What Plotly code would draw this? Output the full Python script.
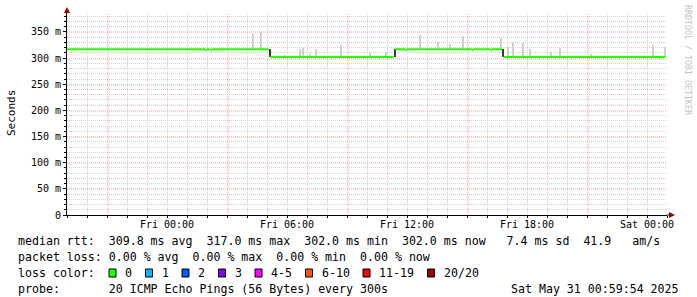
import math
import plotly.graph_objects as go
import pandas as pd

# ---------------- data ----------------
x_start = "2025-05-29 19:00"
x_end = "2025-05-31 01:00"

# median RTT step segments (start, end, value in ms)
seg_start = ["2025-05-29 19:00", "2025-05-30 01:55", "2025-05-30 02:00", "2025-05-30 02:10",
             "2025-05-30 02:15", "2025-05-30 05:10", "2025-05-30 11:25", "2025-05-30 11:55",
             "2025-05-30 12:00", "2025-05-30 15:15", "2025-05-30 15:20", "2025-05-30 16:10",
             "2025-05-30 16:15", "2025-05-30 16:50"]
seg_end = ["2025-05-30 01:55", "2025-05-30 02:00", "2025-05-30 02:10", "2025-05-30 02:15",
           "2025-05-30 05:05", "2025-05-30 11:20", "2025-05-30 11:55", "2025-05-30 12:00",
           "2025-05-30 15:15", "2025-05-30 15:20", "2025-05-30 16:10", "2025-05-30 16:15",
           "2025-05-30 16:45", "2025-05-31 00:55"]
seg_value = [317, 315, 317, 315, 317, 302, 317, 315, 317, 315, 317, 315, 317, 302]

# transition bins (dark smoke between the two levels)
trans_time = ["2025-05-30 05:05", "2025-05-30 11:20", "2025-05-30 16:45"]
trans_low = [302, 302, 302]
trans_high = [317, 317, 317]

# light smoke spikes (time, top in ms)
smoke_time = ["2025-05-30 04:15", "2025-05-30 04:40", "2025-05-30 05:50", "2025-05-30 06:35",
              "2025-05-30 06:45", "2025-05-30 07:05", "2025-05-30 07:25", "2025-05-30 08:40",
              "2025-05-30 10:05", "2025-05-30 10:55", "2025-05-30 12:35", "2025-05-30 13:30",
              "2025-05-30 14:05", "2025-05-30 14:45", "2025-05-30 16:40", "2025-05-30 17:00",
              "2025-05-30 17:15", "2025-05-30 17:45", "2025-05-30 18:05", "2025-05-30 19:10",
              "2025-05-30 19:35", "2025-05-30 21:10", "2025-05-30 23:35", "2025-05-31 00:15",
              "2025-05-31 00:50"]
smoke_top = [347, 350, 306, 318, 319, 308, 317, 325,
             309, 312, 345, 331, 327, 342, 338, 322,
             331, 329, 317, 311, 320, 308, 305, 325, 322]

y_tick_vals = [0, 50, 100, 150, 200, 250, 300, 350]
y_tick_text = ["0", "50 m", "100 m", "150 m", "200 m", "250 m", "300 m", "350 m"]
x_tick_vals = ["2025-05-30 00:00", "2025-05-30 06:00", "2025-05-30 12:00",
               "2025-05-30 18:00", "2025-05-31 00:00"]
x_tick_text = ["Fri 00:00", "Fri 06:00", "Fri 12:00", "Fri 18:00", "Sat 00:00"]
major_vgrid_start = "2025-05-29 21:00"

legend_lines = [
    "median rtt:  309.8 ms avg  317.0 ms max  302.0 ms min  302.0 ms now   7.4 ms sd  41.9   am/s",
    "packet loss: 0.00 % avg  0.00 % max  0.00 % min  0.00 % now",
    "loss color:",
    "probe:       20 ICMP Echo Pings (56 Bytes) every 300s",
]
loss_labels = ["0", "1", "2", "3", "4-5", "6-10", "11-19", "20/20"]
loss_colors = ["#26ff00", "#00b8ff", "#0059ff", "#7e00ff", "#ff00ff", "#ff5500", "#ff0000", "#a10000"]
date_text = "Sat May 31 00:59:54 2025"

# ---------------- geometry helpers ----------------
W, H = 697, 297
L, R, T, B = 67, 667, 13, 215
Y_MAX = 386.3
KY = (B - T) / Y_MAX            # px per ms
T0 = pd.Timestamp(x_start)
T1 = pd.Timestamp(x_end)
KX = (R - L) / (T1 - T0).total_seconds()   # px per second


def px_x(p):
    return (p - L) / (R - L)


def px_y(p):
    return (B - p) / (B - T)


def snap_y(v, off):
    p = math.floor(B - v * KY) + off
    return (B - p) / KY


def snap_x(t, off):
    p = L + (pd.Timestamp(t) - T0).total_seconds() * KX
    p = math.floor(p) + off
    return (T0 + pd.Timedelta(seconds=(p - L) / KX)).strftime("%Y-%m-%d %H:%M:%S.%f")


MONO = "DejaVu Sans Mono"
GRID_MINOR = "#d0d0d0"
GRID_MAJOR = "#eb9a9a"
DOT = "1px,1px"

# grid positions (minor positions skip the major ones)
hours = pd.date_range(x_start, x_end, freq="1h")[1:-1]
major_v = pd.date_range(major_vgrid_start, x_end, freq="6h")
major_set = set(major_v)
minor_v = [h for h in hours if h not in major_set]
minor_h = [v for v in range(10, 390, 10) if v % 50 != 0]

# ---------------- traces ----------------
ss = pd.to_datetime(seg_start)
se = pd.to_datetime(seg_end)


def median_at(t):
    t = pd.Timestamp(t)
    for a, b, v in zip(ss, se, seg_value):
        if a <= t < b:
            return v
    return None


smoke_base = [median_at(t) for t in smoke_time]
smoke_h = [top - base for top, base in zip(smoke_top, smoke_base)]
bin_ms = 6 * 60 * 1000

fig = go.Figure()
fig.add_trace(go.Bar(
    x=pd.to_datetime(smoke_time) + pd.Timedelta(minutes=2.5), y=smoke_h, base=smoke_base,
    width=bin_ms, marker=dict(color="#d0d0d0", line=dict(width=0)),
    hoverinfo="skip"))
fig.add_trace(go.Bar(
    x=pd.to_datetime(trans_time) + pd.Timedelta(minutes=2.5),
    y=[h - l for h, l in zip(trans_high, trans_low)], base=trans_low,
    width=bin_ms, marker=dict(color="#3a3a3a", line=dict(width=0)),
    hoverinfo="skip"))

lx, ly = [], []
for a, b, v in zip(seg_start, seg_end, seg_value):
    lx += [a, b, None]
    ly += [v, v, None]
fig.add_trace(go.Scatter(x=lx, y=ly, mode="lines",
                         line=dict(color="#26ff00", width=2), connectgaps=False,
                         hoverinfo="skip"))

# ---------------- layout ----------------
shapes = []


def vline(t, color, off):
    xt = snap_x(t, off)
    return dict(type="line", xref="x", yref="paper", x0=xt, x1=xt, y0=0, y1=1,
                line=dict(color=color, width=1, dash=DOT), layer="below")


def hline(v, color, off):
    yv = snap_y(v, off)
    return dict(type="line", xref="paper", yref="y", x0=0, x1=1, y0=yv, y1=yv,
                line=dict(color=color, width=1, dash=DOT), layer="below")


for t in minor_v:
    shapes.append(vline(t, GRID_MINOR, 0.5))
for v in minor_h:
    shapes.append(hline(v, GRID_MINOR, 0.5))
for t in major_v:
    shapes.append(vline(t, GRID_MAJOR, 1.0))
for v in y_tick_vals[1:]:
    shapes.append(hline(v, GRID_MAJOR, 1.0))

# axis arrows
shapes.append(dict(type="path", xref="paper", yref="paper", xsizemode="pixel", ysizemode="pixel",
                   xanchor=0, yanchor=1, path="M -3,0 L 3,0 L 0,6 Z",
                   fillcolor="#9a0000", line=dict(width=0)))
shapes.append(dict(type="path", xref="paper", yref="paper", xsizemode="pixel", ysizemode="pixel",
                   xanchor=1, yanchor=0, path="M 0,0 L 2,0",
                   line=dict(color="black", width=1)))
shapes.append(dict(type="path", xref="paper", yref="paper", xsizemode="pixel", ysizemode="pixel",
                   xanchor=1, yanchor=0, path="M 2,-3 L 2,3 L 8,0 Z",
                   fillcolor="#9a0000", line=dict(width=0)))

annotations = []
annotations.append(dict(text="Seconds", x=px_x(11), y=px_y(113), xref="paper", yref="paper",
                        showarrow=False, textangle=-90, font=dict(family=MONO, size=11, color="black"),
                        xanchor="center", yanchor="middle"))
annotations.append(dict(text="RRDTOOL / TOBI OETIKER", x=px_x(688), y=px_y(60), xref="paper", yref="paper",
                        showarrow=False, textangle=90, font=dict(family=MONO, size=8.3, color="#c4c4c4"),
                        xanchor="center", yanchor="middle"))

row_y = [241, 257, 273, 289]
for txt, ry in zip(legend_lines, row_y):
    annotations.append(dict(text=txt.replace(" ", "\u00a0"), x=px_x(16), y=px_y(ry),
                            xref="paper", yref="paper", showarrow=False,
                            xanchor="left", yanchor="middle",
                            font=dict(family=MONO, size=11.6, color="black")))
annotations.append(dict(text=date_text.replace(" ", "\u00a0"), x=px_x(681), y=px_y(row_y[3]),
                        xref="paper", yref="paper", showarrow=False,
                        xanchor="right", yanchor="middle",
                        font=dict(family=MONO, size=11.6, color="black")))

box_x = [109, 145.5, 182, 218.5, 255, 305.5, 363, 427.5]
for bx, lab, col in zip(box_x, loss_labels, loss_colors):
    shapes.append(dict(type="rect", xref="paper", yref="paper",
                       x0=px_x(bx), x1=px_x(bx + 7), y0=px_y(row_y[2] + 4), y1=px_y(row_y[2] - 4),
                       fillcolor=col, line=dict(color="black", width=1)))
    annotations.append(dict(text=lab, x=px_x(bx + 14), y=px_y(row_y[2]),
                            xref="paper", yref="paper", showarrow=False,
                            xanchor="left", yanchor="middle",
                            font=dict(family=MONO, size=11.6, color="black")))

fig.update_layout(
    width=W, height=H,
    margin=dict(l=L, r=W - R, t=T, b=H - B, pad=0),
    paper_bgcolor="white", plot_bgcolor="rgba(0,0,0,0)",
    showlegend=False, barmode="overlay", bargap=0,
    shapes=shapes, annotations=annotations,
    xaxis=dict(type="date", range=[x_start, x_end], tickmode="array",
               tickvals=x_tick_vals, ticktext=x_tick_text,
               tickfont=dict(family=MONO, size=10, color="black"),
               showgrid=False, zeroline=False, showline=True, linecolor="black", linewidth=1,
               ticks="outside", ticklen=2, tickcolor="black", ticklabelstandoff=-2,
               minor=dict(dtick=3600000, tick0=x_start, showgrid=False, ticks="outside",
                          ticklen=2, tickcolor="black")),
    yaxis=dict(range=[0, Y_MAX], tickmode="array", tickvals=y_tick_vals, ticktext=y_tick_text,
               tickfont=dict(family=MONO, size=10, color="black"),
               showgrid=False, zeroline=False, showline=True, linecolor="black", linewidth=1,
               ticks="outside", ticklen=3, tickcolor="black",
               minor=dict(dtick=10, tick0=0, showgrid=False, ticks="outside", ticklen=2,
                          tickcolor="black")),
)

fig.write_html("out.html")
